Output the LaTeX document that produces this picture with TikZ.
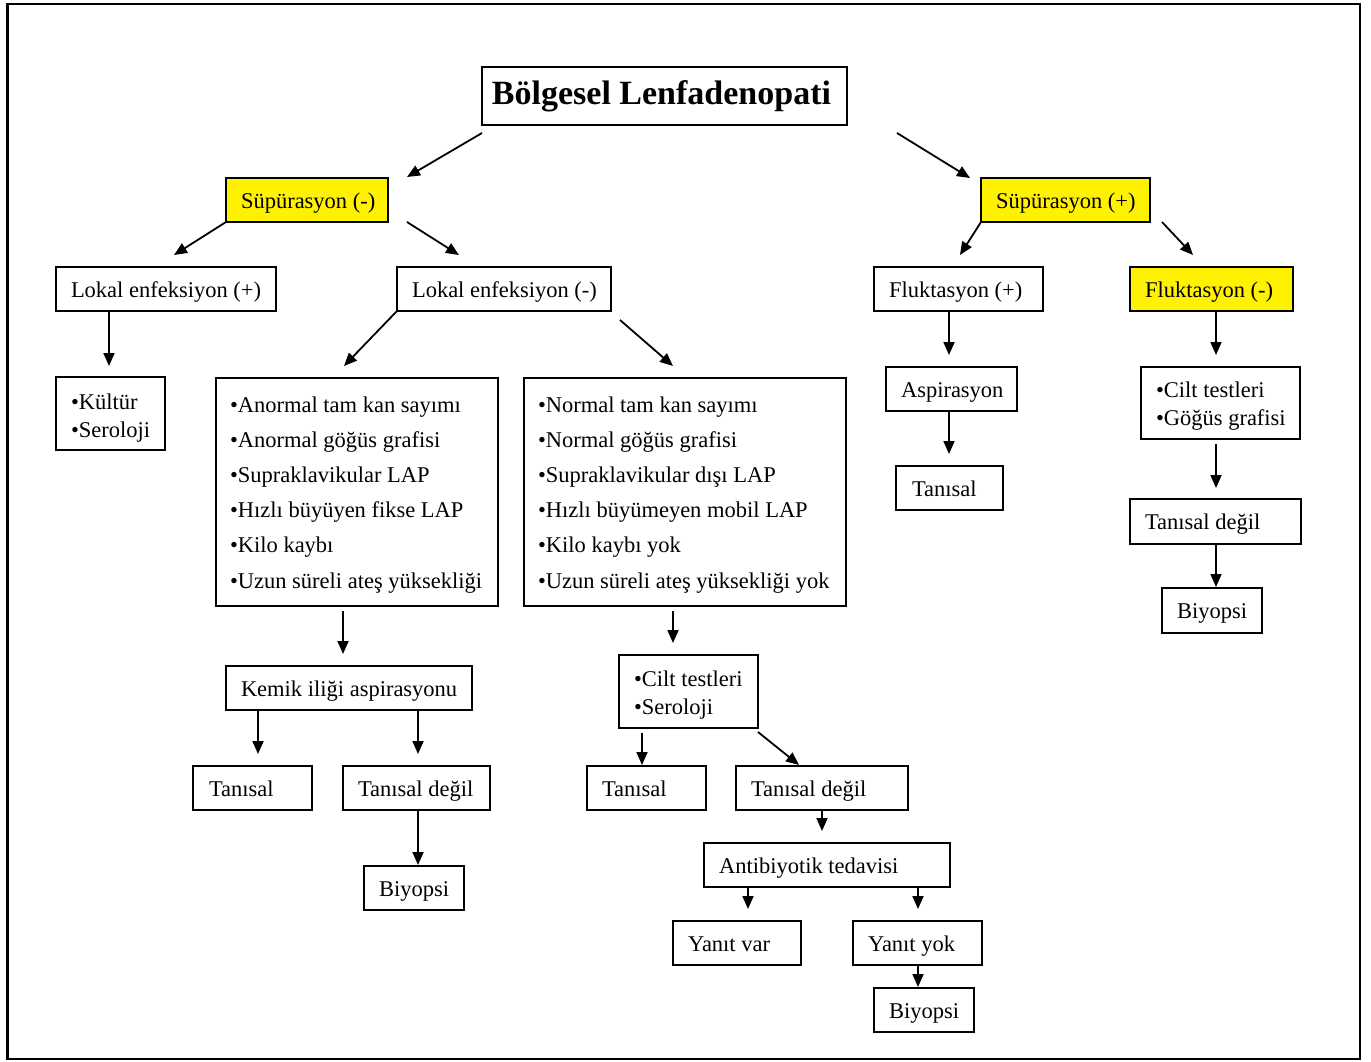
\documentclass[tikz,border=0pt]{standalone}
\usepackage{fontspec}
\setmainfont{Liberation Serif}
\usetikzlibrary{arrows.meta,calc}
\tikzset{
  box/.style={draw, rectangle, line width=1.8pt, inner sep=0pt, outer sep=0pt},
  yel/.style={fill=yellow},
  txt/.style={inner sep=0pt, outer sep=0pt, font=\fontsize{22.5}{28}\selectfont},
  big/.style={inner sep=0pt, outer sep=0pt, font=\fontsize{22.5}{35.2}\selectfont},
  arr/.style={line width=1.8pt, -{Triangle[length=13pt,width=11pt]}}
}
\newcommand\bx[6]{\node[box,#6,minimum width={(#4-#2)*1pt},minimum height={(#5-#3)*1pt}] (#1) at ({(#2+#4)/2},{(#3+#5)/2}) {};}
\newcommand\lt[3]{\node[txt,anchor=base west] (#1t) at ($(#1.west)+(#2,8)$) {#3};}
\begin{document}
\begin{tikzpicture}[x=1pt,y=-1pt]
\useasboundingbox (0,0) rectangle (1371,1062);
\fill[white] (0,0) rectangle (1371,1062);
\draw[line width=2.4pt] (7.5,4) rectangle (1360,1059);
% boxes
\bx{title}{482}{67}{847}{125}{}
\bx{sneg}{226}{178}{388}{222}{yel}
\bx{spos}{981}{178}{1150}{222}{yel}
\bx{le1}{56}{267}{276}{311}{}
\bx{le2}{397}{267}{611}{311}{}
\bx{kb}{56}{377}{165}{450}{}
\bx{bl}{216}{378}{498}{606}{}
\bx{br}{524}{378}{846}{606}{}
\bx{kia}{226}{666}{472}{710}{}
\bx{tl}{193}{766}{312}{810}{}
\bx{tdl}{343}{766}{490}{810}{}
\bx{byl}{364}{866}{464}{910}{}
\bx{cs}{619}{655}{758}{728}{}
\bx{tm}{587}{766}{706}{810}{}
\bx{tdm}{736}{766}{908}{810}{}
\bx{ab}{704}{843}{950}{887}{}
\bx{yv}{673}{921}{801}{965}{}
\bx{yy}{853}{921}{982}{965}{}
\bx{bym}{874}{988}{974}{1032}{}
\bx{f1}{874}{267}{1043}{311}{}
\bx{f2}{1130}{267}{1293}{311}{yel}
\bx{asp}{886}{367}{1017}{411}{}
\bx{tr}{896}{466}{1003}{510}{}
\bx{cg}{1141}{367}{1300}{439}{}
\bx{tdr}{1130}{499}{1301}{544}{}
\bx{byr}{1162}{588}{1262}{633}{}
% texts
\node[inner sep=0pt,anchor=base,font=\bfseries\fontsize{34}{40}\selectfont] (titlet) at ($(title.center)+(-3,9)$) {Bölgesel Lenfadenopati};
\lt{sneg}{15}{Süpürasyon (-)}
\lt{spos}{15}{Süpürasyon (+)}
\lt{le1}{15}{Lokal enfeksiyon (+)}
\lt{le2}{15}{Lokal enfeksiyon (-)}
\lt{kia}{15}{Kemik iliği aspirasyonu}
\lt{tl}{16}{Tanısal}
\lt{tdl}{15}{Tanısal değil}
\lt{byl}{15}{Biyopsi}
\lt{tm}{15}{Tanısal}
\lt{tdm}{15}{Tanısal değil}
\lt{ab}{15}{Antibiyotik tedavisi}
\lt{yv}{15}{Yanıt var}
\lt{yy}{15}{Yanıt yok}
\lt{bym}{15}{Biyopsi}
\lt{f1}{15}{Fluktasyon (+)}
\lt{f2}{15}{Fluktasyon (-)}
\lt{asp}{15}{Aspirasyon}
\lt{tr}{16}{Tanısal}
\lt{tdr}{15}{Tanısal değil}
\lt{byr}{15}{Biyopsi}
\node[txt,anchor=base west] (kbt) at ($(kb.north west)+(15,32)$) {\begin{tabular}[t]{@{}l@{}}•Kültür\\•Seroloji\end{tabular}};
\node[txt,anchor=base west] (cst) at ($(cs.north west)+(15,31)$) {\begin{tabular}[t]{@{}l@{}}•Cilt testleri\\•Seroloji\end{tabular}};
\node[txt,anchor=base west] (cgt) at ($(cg.north west)+(15,30)$) {\begin{tabular}[t]{@{}l@{}}•Cilt testleri\\•Göğüs grafisi\end{tabular}};
\node[big,anchor=base west] (blt) at ($(bl.north west)+(14,34)$) {\begin{tabular}[t]{@{}l@{}}•Anormal tam kan sayımı\\•Anormal göğüs grafisi\\•Supraklavikular LAP\\•Hızlı büyüyen fikse LAP\\•Kilo kaybı\\•Uzun süreli ateş yüksekliği\end{tabular}};
\node[big,anchor=base west] (brt) at ($(br.north west)+(14,34)$) {\begin{tabular}[t]{@{}l@{}}•Normal tam kan sayımı\\•Normal göğüs grafisi\\•Supraklavikular dışı LAP\\•Hızlı büyümeyen mobil LAP\\•Kilo kaybı yok\\•Uzun süreli ateş yüksekliği yok\end{tabular}};
% connectors
\draw[arr] ($(title.south west)+(0,8)$) -- ($(sneg.north east)+(19,-1)$);
\draw[arr] ($(title.south east)+(50,8)$) -- ($(spos.north west)+(-11,0)$);
\draw[arr] (sneg.south west) -- ($(le1.north west)+(118,-12)$);
\draw[arr] ($(sneg.south east)+(19,0)$) -- ($(le2.north west)+(62,-12)$);
\draw[arr] ($(le1.south west)+(53,0)$) -- ($(kb.north west)+(53,-11)$);
\draw[arr] (le2.south west) -- ($(bl.north west)+(128,-12)$);
\draw[arr] ($(le2.south east)+(9,9)$) -- ($(br.north west)+(149,-12)$);
\draw[arr] ($(bl.south west)+(127,5)$) -- ($(kia.north west)+(117,-12)$);
\draw[arr] ($(kia.south west)+(32,1)$) -- ($(tl.north west)+(65,-12)$);
\draw[arr] ($(kia.south west)+(192,1)$) -- ($(tdl.north west)+(75,-12)$);
\draw[arr] ($(tdl.south west)+(75,0)$) -- ($(byl.north west)+(54,-1)$);
\draw[arr] ($(br.south west)+(149,5)$) -- ($(cs.north west)+(54,-12)$);
\draw[arr] ($(cs.south west)+(23,5)$) -- ($(tm.north west)+(55,-1)$);
\draw[arr] ($(cs.south east)+(0,4)$) -- ($(tdm.north west)+(63,-1)$);
\draw[arr] ($(tdm.south west)+(86,0)$) -- ($(ab.north west)+(118,-12)$);
\draw[arr] ($(ab.south west)+(44,0)$) -- ($(yv.north west)+(75,-12)$);
\draw[arr] ($(ab.south west)+(214,0)$) -- ($(yy.north west)+(65,-12)$);
\draw[arr] ($(yy.south west)+(65,0)$) -- ($(bym.north west)+(44,-1)$);
\draw[arr] (spos.south west) -- ($(f1.north west)+(86,-12)$);
\draw[arr] ($(spos.south east)+(12,0)$) -- ($(f2.north west)+(63,-12)$);
\draw[arr] ($(f1.south west)+(75,0)$) -- ($(asp.north west)+(63,-12)$);
\draw[arr] ($(asp.south west)+(63,0)$) -- ($(tr.north west)+(53,-12)$);
\draw[arr] ($(f2.south west)+(86,0)$) -- ($(cg.north west)+(75,-12)$);
\draw[arr] ($(cg.south west)+(75,5)$) -- ($(tdr.north west)+(86,-11)$);
\draw[arr] ($(tdr.south west)+(86,0)$) -- ($(byr.north west)+(54,-1)$);
\end{tikzpicture}
\end{document}
